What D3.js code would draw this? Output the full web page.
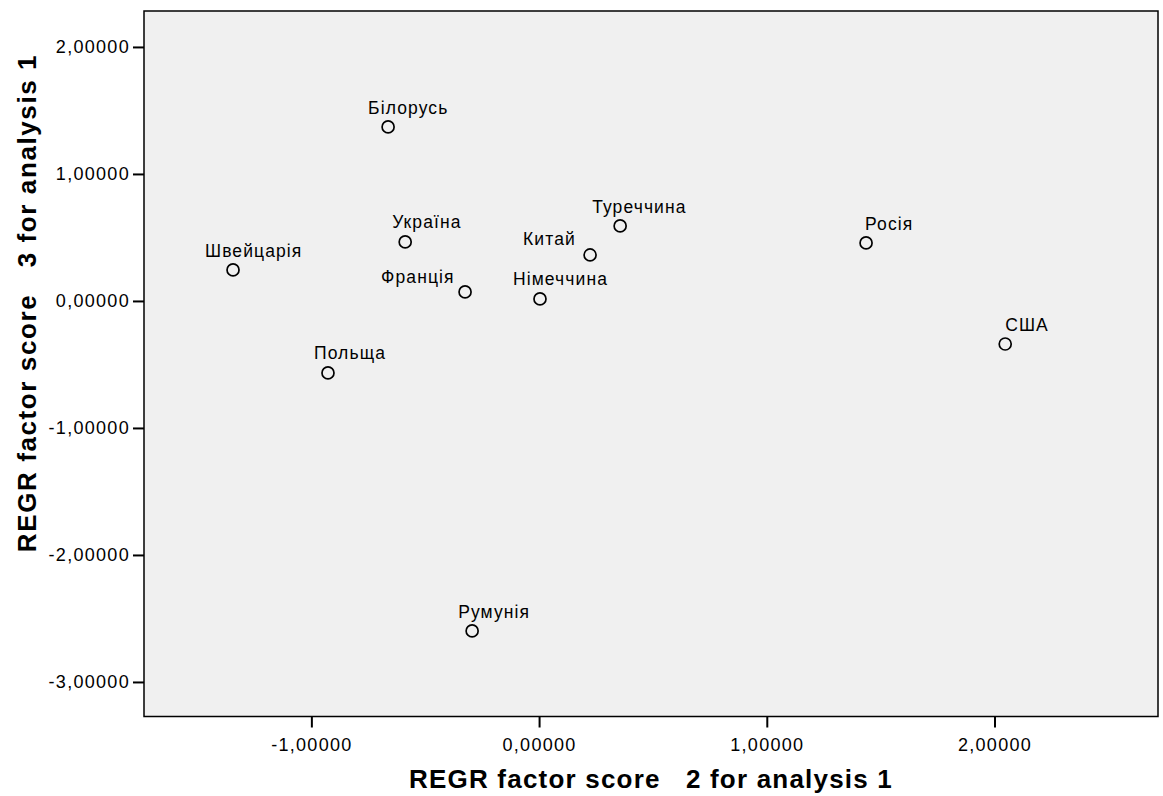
<!DOCTYPE html>
<html>
<head>
<meta charset="utf-8">
<script src="https://cdn.jsdelivr.net/npm/d3@7"></script>
<style>
  html, body { margin: 0; padding: 0; background: #ffffff; }
  svg { display: block; }
</style>
</head>
<body>
<svg id="chart" width="1163" height="796"></svg>
<script>
// ---- Data ----
const countries = ["Білорусь", "Україна", "Швейцарія", "Франція", "Польща", "Румунія", "Німеччина", "Китай", "Туреччина", "Росія", "США"];
const factor2 = [-0.663, -0.588, -1.344, -0.325, -0.927, -0.294, 0.004, 0.224, 0.356, 1.436, 2.047];
const factor3 = [1.370, 0.465, 0.244, 0.071, -0.567, -2.598, 0.016, 0.362, 0.591, 0.457, -0.339];
const xTicks = [-1, 0, 1, 2];
const yTicks = [2, 1, 0, -1, -2, -3];
const xTitle = "REGR factor score   2 for analysis 1";
const yTitle = "REGR factor score   3 for analysis 1";

// label offsets (styling only)
const labelOffset = {
  "Білорусь": [-20, -13], "Україна": [-13, -14], "Швейцарія": [-28, -13],
  "Франція": [-84, -9], "Польща": [-14, -14], "Румунія": [-14, -13],
  "Німеччина": [-27, -14], "Китай": [-67, -10], "Туреччина": [-28, -13],
  "Росія": [-1, -13], "США": [0, -13]
};

const points = countries.map((c, i) => ({name: c, x: factor2[i], y: factor3[i]}));

const svg = d3.select("#chart");
const L = 144, R = 1158, T = 11, B = 716.5;

const x = d3.scaleLinear().domain([-1.735, 2.718]).range([L, R]);
const y = d3.scaleLinear().domain([-3.272, 2.283]).range([B, T]);

const fmt = v => d3.format(".5f")(v).replace(".", ",").replace("−", "-");
const FONT = "Arial, 'Liberation Sans', sans-serif";

// plot background
svg.append("rect")
  .attr("x", L).attr("y", T).attr("width", R - L).attr("height", B - T)
  .attr("fill", "#f0f0f0").attr("stroke", "#000").attr("stroke-width", 1.5);

// axes
const xAxis = svg.append("g").attr("transform", `translate(0,${B})`)
  .call(d3.axisBottom(x).tickValues(xTicks).tickFormat(fmt).tickSize(11).tickSizeOuter(0));
xAxis.select(".domain").remove();
xAxis.selectAll(".tick line").attr("stroke", "#000").attr("stroke-width", 2);
xAxis.selectAll(".tick text")
  .attr("y", 22).attr("dy", "0.71em")
  .style("font-family", FONT)
  .style("font-size", "18px").style("letter-spacing", "1.3px").attr("fill", "#000");

const yAxis = svg.append("g").attr("transform", `translate(${L},0)`)
  .call(d3.axisLeft(y).tickValues(yTicks).tickFormat(fmt).tickSize(11).tickSizeOuter(0));
yAxis.select(".domain").remove();
yAxis.selectAll(".tick line").attr("stroke", "#000").attr("stroke-width", 2);
yAxis.selectAll(".tick text")
  .attr("x", -14)
  .style("font-family", FONT)
  .style("font-size", "18px").style("letter-spacing", "1.3px").attr("fill", "#000");

// points
svg.append("g").selectAll("circle").data(points).join("circle")
  .attr("cx", d => x(d.x)).attr("cy", d => y(d.y)).attr("r", 6)
  .attr("fill", "none").attr("stroke", "#000").attr("stroke-width", 1.7);

// labels
svg.append("g").selectAll("text").data(points).join("text")
  .attr("x", d => x(d.x) + labelOffset[d.name][0])
  .attr("y", d => y(d.y) + labelOffset[d.name][1])
  .text(d => d.name)
  .style("font-family", FONT)
  .style("font-size", "17.5px").style("letter-spacing", "1.1px").attr("fill", "#000");

// axis titles
svg.append("text")
  .attr("x", 651).attr("y", 788).attr("text-anchor", "middle")
  .style("font-family", FONT)
  .style("font-size", "26px").style("font-weight", "bold").style("letter-spacing", "1.2px")
  .style("white-space", "pre").attr("xml:space", "preserve")
  .text(xTitle);

svg.append("text")
  .attr("transform", "translate(36,303) rotate(-90)")
  .attr("text-anchor", "middle")
  .style("font-family", FONT)
  .style("font-size", "26px").style("font-weight", "bold").style("letter-spacing", "1.6px")
  .style("white-space", "pre").attr("xml:space", "preserve")
  .text(yTitle);
</script>
</body>
</html>
